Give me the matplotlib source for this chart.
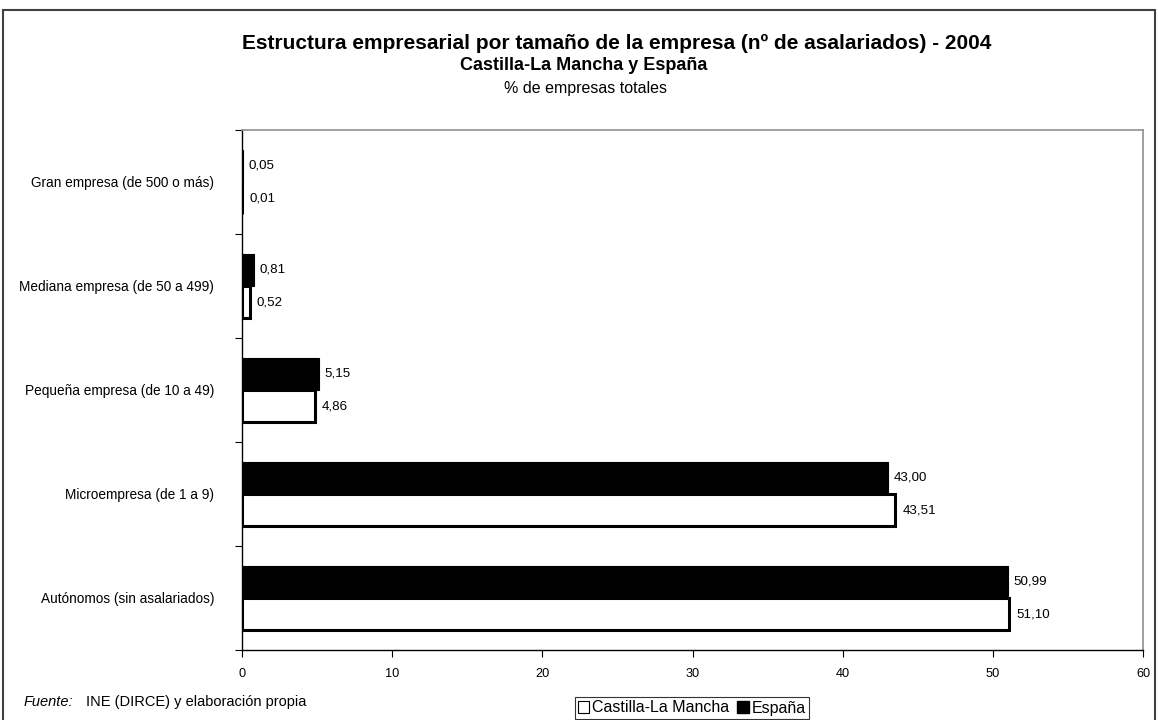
import matplotlib.pyplot as plt
import numpy as np
from matplotlib.patches import Rectangle, Patch

plt.rcParams['font.family'] = ['Liberation Sans', 'DejaVu Sans']

# datos (de abajo hacia arriba)
categorias = [
    'Autónomos (sin asalariados)',
    'Microempresa (de 1 a 9)',
    'Pequeña empresa (de 10 a 49)',
    'Mediana empresa (de 50 a 499)',
    'Gran empresa (de 500 o más)',
]
castilla = [51.10, 43.51, 4.86, 0.52, 0.01]
espana = [50.99, 43.00, 5.15, 0.81, 0.05]
xticks = [0, 10, 20, 30, 40, 50, 60]


def fmt(v):
    return f'{v:.2f}'.replace('.', ',')


W, H = 1158, 720
fig = plt.figure(figsize=(W / 100, H / 100), dpi=100)
ax = fig.add_axes([242 / W, 70 / H, 901 / W, 520 / H])

# marco exterior
fig.patches.append(Rectangle((3 / W, -0.05), 1152 / W, 1.05 - 10 / H,
                             transform=fig.transFigure, fill=False,
                             edgecolor='#404040', linewidth=1.5))

y = np.arange(len(categorias))
h = 0.31
ax.barh(y - h / 2, castilla, height=h, color='white', edgecolor='black',
        linewidth=2.2, label='Castilla-La Mancha')
ax.barh(y + h / 2, espana, height=h, color='black', edgecolor='black',
        linewidth=0.8, label='España')

for i in range(len(categorias)):
    ax.annotate(fmt(castilla[i]), (castilla[i], y[i] - h / 2), xytext=(5, 0),
                textcoords='offset points', va='center', ha='left', fontsize=9.6)
    ax.annotate(fmt(espana[i]), (espana[i], y[i] + h / 2), xytext=(4, 0),
                textcoords='offset points', va='center', ha='left', fontsize=9.6)

ax.set_xlim(0, 60)
ax.set_ylim(-0.5, len(categorias) - 0.5)
ax.set_xticks(xticks)
ax.set_xticklabels([str(t) for t in xticks], fontsize=9.2)
ax.set_yticks(y)
ax.set_yticklabels(categorias, fontsize=9.8)
ax.tick_params(axis='y', length=0, pad=20)
ax.set_yticks(np.arange(-0.5, len(categorias), 1), minor=True)
ax.tick_params(axis='y', which='minor', length=5, width=0.8)
ax.tick_params(axis='x', length=5, width=0.8, pad=8)

for s in ['top', 'right']:
    ax.spines[s].set_color('#909090')
    ax.spines[s].set_linewidth(1.2)
for s in ['left', 'bottom']:
    ax.spines[s].set_color('black')
    ax.spines[s].set_linewidth(1.0)

fig.text(617 / W, 1 - 43 / H,
         'Estructura empresarial por tamaño de la empresa (nº de asalariados) - 2004',
         ha='center', va='center', fontsize=15, fontweight='bold')
fig.text(584 / W, 1 - 66 / H, 'Castilla-La Mancha y España',
         ha='center', va='center', fontsize=13, fontweight='bold')
fig.text(586 / W, 1 - 88 / H, '% de empresas totales',
         ha='center', va='center', fontsize=11.5)

fig.text(24 / W, 1 - 702 / H, 'Fuente:', ha='left', va='center',
         fontsize=10.5, style='italic')
fig.text(86 / W, 1 - 702 / H, 'INE (DIRCE) y elaboración propia',
         ha='left', va='center', fontsize=10.5)

handles = [Patch(facecolor='white', edgecolor='black', linewidth=0.8),
           Patch(facecolor='black', edgecolor='black')]
leg = fig.legend(handles, ['Castilla-La Mancha', 'España'], ncol=2,
                 loc='center', bbox_to_anchor=(692 / W, 1 - 708 / H),
                 fontsize=11.5, frameon=True, fancybox=False, handlelength=0.7,
                 handleheight=0.7, handletextpad=0.2, columnspacing=0.5,
                 borderpad=0.2, edgecolor='black', borderaxespad=0)
leg.get_frame().set_linewidth(0.8)

fig.savefig('out.png', dpi=100)
